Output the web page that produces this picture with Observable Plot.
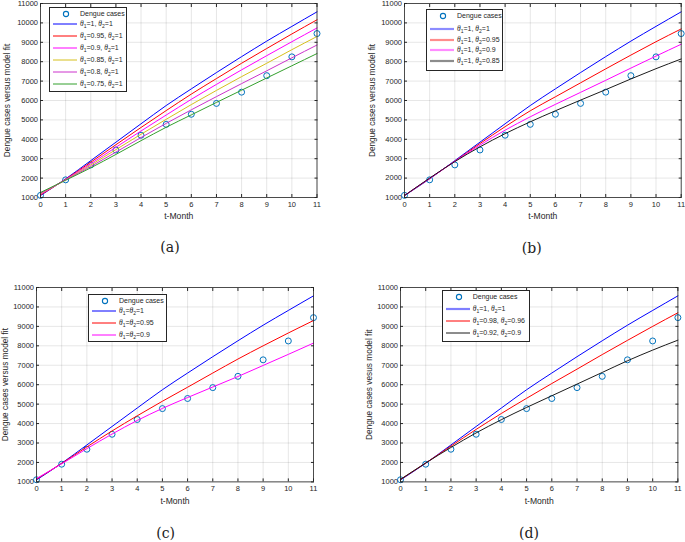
<!DOCTYPE html>
<html><head><meta charset="utf-8">
<script src="https://cdn.jsdelivr.net/npm/d3@7"></script>
<script src="https://cdn.jsdelivr.net/npm/@observablehq/plot@0.6"></script>
<style>
html,body{margin:0;padding:0;background:#fff;}
#fig{position:relative;width:685px;height:542px;overflow:hidden;background:#fff;font-family:"Liberation Sans",Arial,sans-serif;}
.panel{position:absolute;}
.legend{position:absolute;background:#fff;border:1px solid #262626;box-sizing:border-box;}
.row{position:absolute;left:0;right:0;height:10px;}
.row svg{position:absolute;left:0;top:0;overflow:visible;}
.row span{position:absolute;left:30px;top:0;font-size:7px;line-height:10px;white-space:nowrap;color:#262626;}
.row sub{font-size:5px;vertical-align:-1.5px;line-height:0;}
.row i{font-family:"Liberation Serif",serif;font-size:7.5px;}
.caption{position:absolute;font-family:"DejaVu Serif",serif;font-size:14px;line-height:16px;transform:translate(-50%,-50%);color:#222;white-space:nowrap;}
</style></head><body><div id="fig"></div>
<script>
// ---------- data ----------
const months = [0,1,2,3,4,5,6,7,8,9,10,11];
const yTicks = [1000,2000,3000,4000,5000,6000,7000,8000,9000,10000,11000];
const dengueCases = [1110, 1910, 2680, 3450, 4210, 4770, 5290, 5850, 6430, 7280, 8250, 9450];

// theta1 = theta2 = 1 (same curve in all panels)
const fitBase = [1100, 1960, 2900, 3850, 4800, 5740, 6600, 7440, 8260, 9060, 9820, 10570];

// panel (a): theta2 = 1, theta1 varies
const aTheta1_095 = [1130, 1940, 2820, 3720, 4610, 5480, 6330, 7130, 7920, 8680, 9430, 10160];
const aTheta1_090 = [1160, 1930, 2740, 3590, 4430, 5250, 6060, 6830, 7580, 8310, 9030, 9740];
const aTheta1_085 = [1190, 1910, 2670, 3470, 4260, 5030, 5790, 6520, 7230, 7920, 8620, 9300];
const aTheta1_080 = [1220, 1900, 2600, 3340, 4090, 4820, 5520, 6200, 6870, 7530, 8200, 8860];
const aTheta1_075 = [1260, 1890, 2530, 3220, 3930, 4620, 5260, 5900, 6530, 7160, 7790, 8420];

// panel (b): theta1 = 1, theta2 varies
const bTheta2_095 = [1100, 1980, 2870, 3780, 4650, 5470, 6190, 6910, 7630, 8340, 9030, 9690];
const bTheta2_090 = [1100, 1990, 2860, 3700, 4470, 5160, 5800, 6420, 7040, 7670, 8290, 8900];
const bTheta2_085 = [1100, 2000, 2850, 3610, 4290, 4900, 5470, 6020, 6560, 7110, 7640, 8140];

// panel (c): theta1 = theta2
const cTheta_095 = [1140, 1950, 2800, 3620, 4400, 5150, 5870, 6600, 7320, 8000, 8660, 9300];
const cTheta_090 = [1170, 1930, 2710, 3460, 4160, 4780, 5340, 5880, 6420, 6990, 7560, 8140];

// panel (d)
const dTheta_098_096 = [1120, 1970, 2840, 3700, 4520, 5300, 6060, 6800, 7550, 8280, 9000, 9700];
const dTheta_092_090 = [1130, 1970, 2770, 3520, 4200, 4830, 5430, 6030, 6630, 7230, 7780, 8290];

// legend labels
const dataLabel = "Dengue cases";
const labelsA = [["1","1"],["0.95","1"],["0.9","1"],["0.85","1"],["0.8","1"],["0.75","1"]];
const labelsB = [["1","1"],["1","0.95"],["1","0.9"],["1","0.85"]];
const labelsC = ["1","0.95","0.9"];
const labelsD = [["1","1"],["0.98","0.96"],["0.92","0.9"]];
const yTitles = ["Dengue cases versus model fit","Dengue cases versus model fit","Dengue cases versus model fit","Dengue cases vesus model fit"];
const xTitle = "t-Month";
const captions = ["(a)","(b)","(c)","(d)"];

// ---------- styles / layout ----------
const C = {blue:"#0000ff", red:"#ff0000", magenta:"#ff00ff", yellow:"#d6c01c", purple:"#cc33cc", green:"#33a02c", black:"#1a1a1a", data:"#0072bd"};
const th = (a,b) => `<i>θ</i><sub>1</sub>=${a}, <i>θ</i><sub>2</sub>=${b}`;
const thEq = v => `<i>θ</i><sub>1</sub>=<i>θ</i><sub>2</sub>=${v}`;

const panels = [
  {frame:{x0:39.5,x1:316,y0:2.7,y1:196.7}, yTitleX:6.7, xTitleY:215.7, cap:[170,247],
   legend:{left:49, top:7.3, width:78, height:84.4, gap:10, step:12},
   series:[
     {v:fitBase, c:C.blue, label:th(...labelsA[0])},
     {v:aTheta1_095, c:C.red, label:th(...labelsA[1])},
     {v:aTheta1_090, c:C.magenta, label:th(...labelsA[2])},
     {v:aTheta1_085, c:C.yellow, label:th(...labelsA[3])},
     {v:aTheta1_080, c:C.purple, label:th(...labelsA[4])},
     {v:aTheta1_075, c:C.green, label:th(...labelsA[5])}]},
  {frame:{x0:404,x1:680.7,y0:2.7,y1:196.7}, yTitleX:372.3, xTitleY:215.7, cap:[531.7,248],
   legend:{left:426, top:9.3, width:77, height:61.4, gap:13, step:10.6},
   series:[
     {v:fitBase, c:C.blue, label:th(...labelsB[0]), lw:2.2, lo:0.45},
     {v:bTheta2_095, c:C.red, label:th(...labelsB[1]), lw:2.2, lo:0.45},
     {v:bTheta2_090, c:C.magenta, label:th(...labelsB[2]), lw:2.2, lo:0.45},
     {v:bTheta2_085, c:C.black, label:th(...labelsB[3]), lw:2.2, lo:0.5}]},
  {frame:{x0:35.7,x1:312.7,y0:287.3,y1:481.7}, yTitleX:4.5, xTitleY:500.7, cap:[165.7,532.5],
   legend:{left:88, top:294, width:79, height:47.7, gap:10.7, step:11.7},
   series:[
     {v:fitBase, c:C.blue, label:thEq(labelsC[0])},
     {v:cTheta_095, c:C.red, label:thEq(labelsC[1])},
     {v:cTheta_090, c:C.magenta, label:thEq(labelsC[2])}]},
  {frame:{x0:400.3,x1:677.7,y0:287.3,y1:481.7}, yTitleX:369, xTitleY:500.7, cap:[529,532.5],
   legend:{left:441.7, top:290, width:88.3, height:51.7, gap:12.6, step:11.7},
   series:[
     {v:fitBase, c:C.blue, label:th(...labelsD[0]), lw:2.2, lo:0.5},
     {v:dTheta_098_096, c:C.red, label:th(...labelsD[1])},
     {v:dTheta_092_090, c:C.black, label:th(...labelsD[2])}]}
];

const fig = document.getElementById("fig");
const mL = 45, mR = 10, mT = 12, mB = 30;

panels.forEach((p, k) => {
  const f = p.frame;
  const W = mL + (f.x1 - f.x0) + mR;
  const H = mT + (f.y1 - f.y0) + mB;
  const pts = months.map((m, i) => ({m, v: dengueCases[i]}));
  const marks = [
    Plot.gridX(months, {stroke:"#000", strokeOpacity:0.1}),
    Plot.gridY(yTicks, {stroke:"#000", strokeOpacity:0.1}),
    Plot.dot(pts, {x:"m", y:"v", r:3, stroke:C.data, strokeWidth:1, fill:"none"}),
    ...p.series.map(s => Plot.line(months.map((m, i) => ({m, v: s.v[i]})),
        {x:"m", y:"v", stroke:s.c, strokeWidth:1, curve:"monotone-x"})),
    Plot.frame({stroke:"#262626", strokeWidth:0.8}),
    Plot.axisX(months, {anchor:"bottom", tickSize:-3, tickPadding:7, tickFormat:d => String(d), label:null}),
    Plot.axisX(months, {anchor:"top", tickSize:-3, tickFormat:() => "", label:null}),
    Plot.axisY(yTicks, {anchor:"left", tickSize:-3, tickPadding:5.5, tickFormat:d => String(d), label:null}),
    Plot.axisY(yTicks, {anchor:"right", tickSize:-3, tickFormat:() => "", label:null}),
    Plot.text([yTitles[k]], {text:d => d, frameAnchor:"left", textAnchor:"middle", lineAnchor:"middle", rotate:-90, dx:p.yTitleX - f.x0, fontSize:8.3, fill:"#262626"}),
    Plot.text([xTitle], {text:d => d, frameAnchor:"bottom", textAnchor:"middle", lineAnchor:"middle", dy:p.xTitleY - f.y1, fontSize:8.6, fill:"#262626"})
  ];
  const chart = Plot.plot({
    width: W, height: H,
    marginLeft: mL, marginRight: mR, marginTop: mT, marginBottom: mB,
    x: {domain:[0,11], label:null},
    y: {domain:[1000,11000], label:null},
    style: {fontFamily:'"Liberation Sans", Arial, sans-serif', fontSize:"7.5px", color:"#262626", background:"transparent", overflow:"visible"},
    marks
  });
  chart.classList.add("panel");
  chart.style.left = (f.x0 - mL) + "px";
  chart.style.top = (f.y0 - mT) + "px";
  fig.appendChild(chart);

  // legend
  const L = p.legend;
  const box = document.createElement("div");
  box.className = "legend";
  Object.assign(box.style, {left:L.left+"px", top:L.top+"px", width:L.width+"px", height:L.height+"px"});
  const rows = [{data:true, label:dataLabel}, ...p.series.map(s => ({s, label:s.label}))];
  rows.forEach((r, i) => {
    const cy = i === 0 ? 6.7 : 6.7 + L.gap + (i - 1) * L.step;
    const row = document.createElement("div");
    row.className = "row";
    row.style.top = (cy - 5 - 1) + "px";
    let sym;
    if (r.data) sym = `<svg width="30" height="10"><circle cx="16" cy="5" r="2.6" fill="none" stroke="${C.data}" stroke-width="1.1"/></svg>`;
    else sym = `<svg width="30" height="10"><line x1="3" x2="27" y1="5" y2="5" stroke="${r.s.c}" stroke-width="${r.s.lw || 1}" stroke-opacity="${r.s.lo || 1}"/></svg>`;
    row.innerHTML = sym + `<span>${r.label}</span>`;
    box.appendChild(row);
  });
  fig.appendChild(box);

  const cap = document.createElement("div");
  cap.className = "caption";
  cap.style.left = p.cap[0] + "px";
  cap.style.top = p.cap[1] + "px";
  cap.textContent = captions[k];
  fig.appendChild(cap);
});
</script></body></html>
